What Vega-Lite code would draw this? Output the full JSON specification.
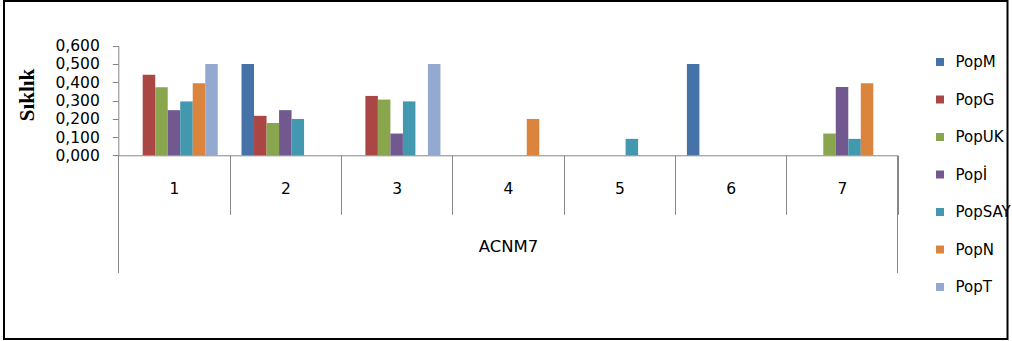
{
  "$schema": "https://vega.github.io/schema/vega-lite/v6.json",
  "width": 1003.5,
  "height": 338,
  "autosize": {"type": "none"},
  "padding": {"left": 4, "top": 1, "right": 4.5, "bottom": 2},
  "background": "#ffffff",
  "config": {
    "view": {"stroke": "#000000", "strokeWidth": 2},
    "axis": {"grid": false, "domainColor": "#868686", "tickColor": "#868686", "labelColor": "#000000", "titleColor": "#000000", "labelFont": "DejaVu Sans", "titleFont": "DejaVu Sans"}
  },
  "data": {
    "values": [
      {"grp": "1", "series": "PopG", "value": 0.441},
      {"grp": "1", "series": "PopUK", "value": 0.372},
      {"grp": "1", "series": "Popİ", "value": 0.247},
      {"grp": "1", "series": "PopSAY", "value": 0.295},
      {"grp": "1", "series": "PopN", "value": 0.394},
      {"grp": "1", "series": "PopT", "value": 0.5},
      {"grp": "2", "series": "PopM", "value": 0.5},
      {"grp": "2", "series": "PopG", "value": 0.216},
      {"grp": "2", "series": "PopUK", "value": 0.177},
      {"grp": "2", "series": "Popİ", "value": 0.247},
      {"grp": "2", "series": "PopSAY", "value": 0.199},
      {"grp": "3", "series": "PopG", "value": 0.325},
      {"grp": "3", "series": "PopUK", "value": 0.305},
      {"grp": "3", "series": "Popİ", "value": 0.119},
      {"grp": "3", "series": "PopSAY", "value": 0.295},
      {"grp": "3", "series": "PopT", "value": 0.5},
      {"grp": "4", "series": "PopN", "value": 0.199},
      {"grp": "5", "series": "PopSAY", "value": 0.09},
      {"grp": "6", "series": "PopM", "value": 0.5},
      {"grp": "7", "series": "PopUK", "value": 0.119},
      {"grp": "7", "series": "Popİ", "value": 0.374},
      {"grp": "7", "series": "PopSAY", "value": 0.09},
      {"grp": "7", "series": "PopN", "value": 0.394}
    ]
  },
  "resolve": {"axis": {"x": "independent"}},
  "layer": [
    {
      "mark": {"type": "bar"},
      "encoding": {
        "x": {
          "field": "grp", "type": "nominal",
          "scale": {"domain": ["1", "2", "3", "4", "5", "6", "7"], "range": [114.3, 893.7], "paddingInner": 0, "paddingOuter": 0},
          "axis": {
            "orient": "bottom", "offset": -183.7, "tickBand": "extent", "tickSize": 59,
            "labelAngle": 0, "labelFontSize": 15.5, "labelPadding": -33,
            "title": "ACNM7", "titleFontSize": 16.5, "titleFontWeight": "normal", "titlePadding": 24
          }
        },
        "xOffset": {
          "field": "series", "type": "nominal",
          "scale": {"domain": ["PopM", "PopG", "PopUK", "Popİ", "PopSAY", "PopN", "PopT"], "paddingInner": 0, "paddingOuter": 0.95}
        },
        "y": {
          "field": "value", "type": "quantitative",
          "scale": {"domain": [0, 0.6], "range": [154.3, 44.7], "nice": false, "zero": true},
          "axis": {
            "orient": "left", "offset": -114.3, "values": [0, 0.1, 0.2, 0.3, 0.4, 0.5, 0.6],
            "format": ".3f", "labelExpr": "replace(datum.label, '.', ',')",
            "tickSize": 6, "labelFontSize": 15.5, "labelPadding": 13,
            "title": "Sıklık", "titleFont": "Liberation Serif", "titleFontWeight": "bold", "titleFontSize": 21, "titlePadding": 17, "titleY": 93.5
          }
        },
        "color": {
          "field": "series", "type": "nominal",
          "scale": {
            "domain": ["PopM", "PopG", "PopUK", "Popİ", "PopSAY", "PopN", "PopT"],
            "range": ["#4572A7", "#AA4643", "#89A54E", "#71588F", "#4198AF", "#DB843D", "#93A9CF"]
          },
          "legend": {
            "orient": "none", "legendX": 928.5, "legendY": 53.5, "padding": 0,
            "title": null, "symbolType": "square", "symbolSize": 64, "symbolStrokeWidth": 0,
            "labelFont": "DejaVu Sans", "labelFontSize": 15, "labelColor": "#000000", "labelOffset": 8,
            "rowPadding": 21.5, "labelLimit": 200
          }
        }
      }
    },
    {
      "mark": {"type": "rule", "strokeOpacity": 0},
      "encoding": {
        "x": {
          "field": "grp", "type": "nominal",
          "axis": {"orient": "bottom", "offset": -183.7, "values": ["1"], "bandPosition": 0, "tickSize": 117.4, "labels": false, "domain": false, "title": null}
        }
      }
    },
    {
      "mark": {"type": "rule", "strokeOpacity": 0},
      "encoding": {
        "x": {
          "field": "grp", "type": "nominal",
          "axis": {"orient": "bottom", "offset": -183.7, "values": ["7"], "bandPosition": 1, "tickSize": 117.4, "labels": false, "domain": false, "title": null}
        }
      }
    }
  ]
}
